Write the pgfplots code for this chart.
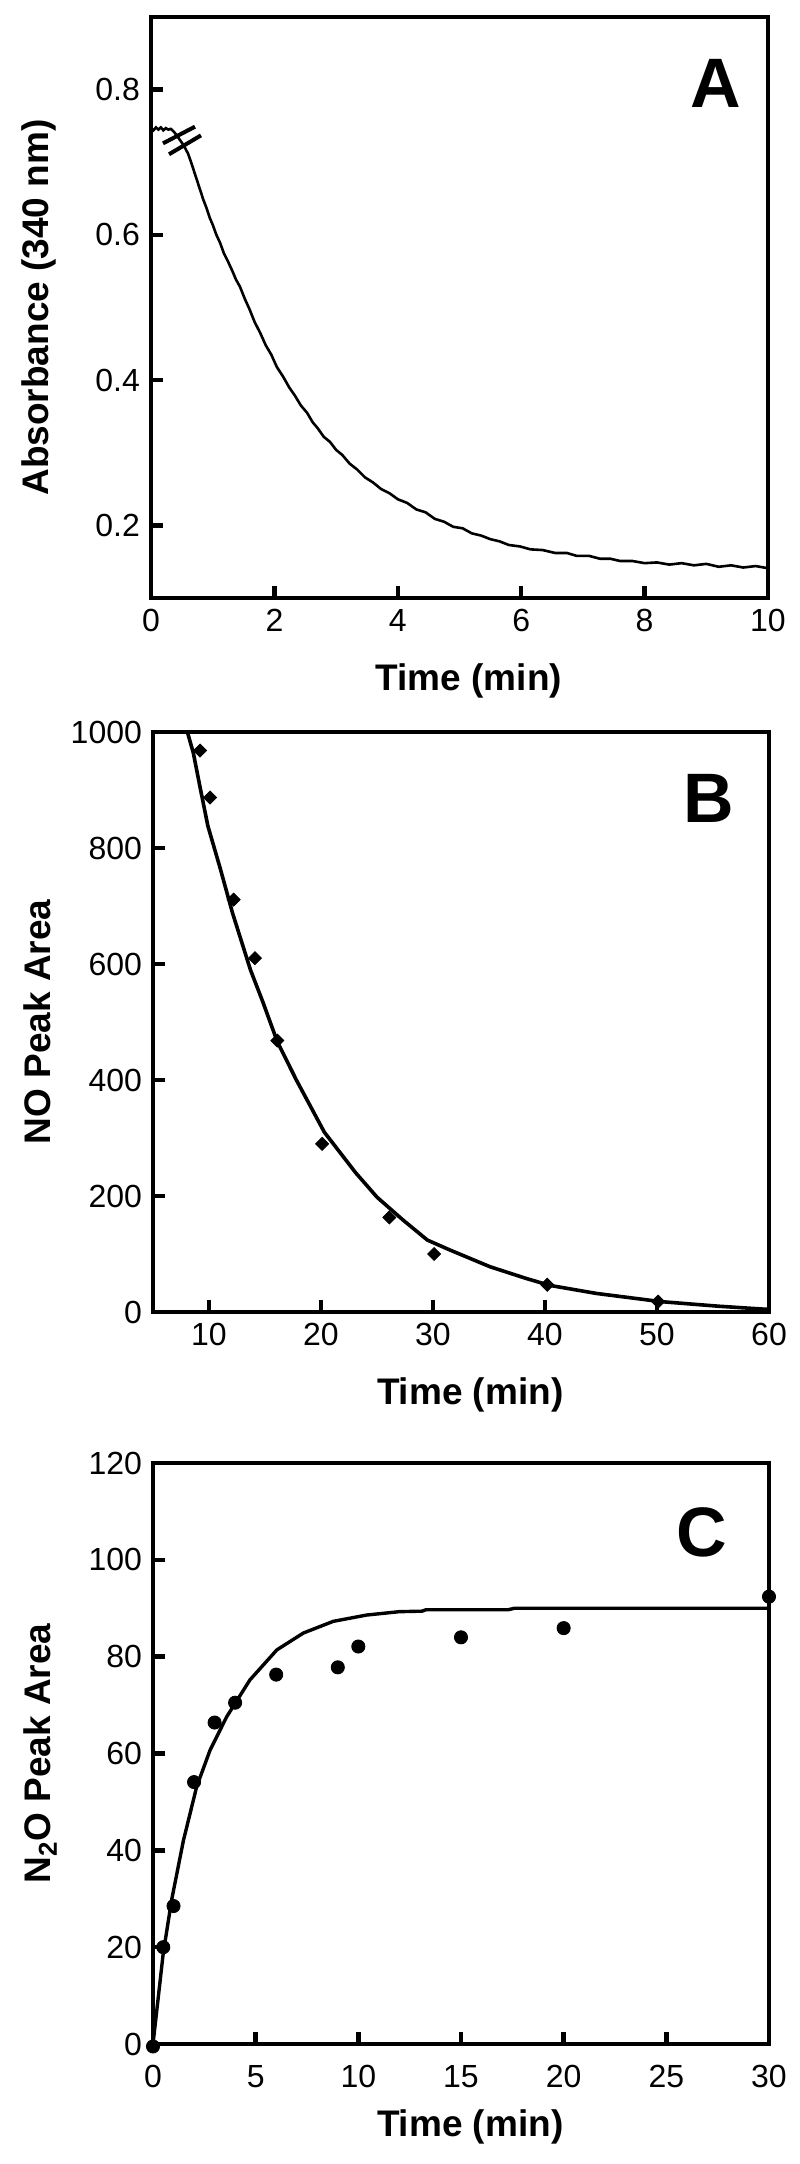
\documentclass[border=0pt]{standalone}
\usepackage{fontspec}
\setmainfont{Liberation Sans}
\usepackage{pgfplots}
\pgfplotsset{compat=1.18}
\pgfplotsset{
 panel/.style={
  scale only axis,
  axis line style={line width=2.4pt},
  every tick/.style={line width=2.2pt, black},
  major tick length=6pt,
  tick pos=left, tick align=inside,
  tick label style={font=\fontsize{16}{19}\selectfont},
  /pgf/number format/assume math mode=true,
  /pgf/number format/1000 sep={},
  every axis y label/.style={at={(rel axis cs:-0.166,0.5)}, rotate=90, anchor=base, font=\fontsize{18.5}{22}\selectfont\bfseries},
  every axis x label/.style={at={(rel axis cs:0.515,-0.159)}, anchor=base, font=\fontsize{18.5}{22}\selectfont\bfseries},
  yticklabel style={xshift=-2pt},
  xticklabel style={yshift=-2pt},
 },
}
\tikzset{letter/.style={font=\fontsize{35}{40}\selectfont\bfseries}}
\begin{document}
\begin{tikzpicture}
\useasboundingbox (0pt,0pt) rectangle (399.5pt,-1082pt);
% ---------------- Panel A ----------------
\begin{axis}[panel, at={(75.5pt,-299pt)}, anchor=south west,
  width=308.5pt, height=290.5pt,
  xmin=0, xmax=10, ymin=0.1, ymax=0.9,
  xtick={0,2,4,6,8,10}, ytick={0.2,0.4,0.6,0.8},
  yticklabel style={/pgf/number format/.cd, fixed, fixed zerofill, precision=1},
  xlabel={Time (min)}, ylabel={Absorbance (340 nm)}]
\addplot[black, line width=1.3pt] coordinates {
(0.00,0.747) (0.04,0.744) (0.08,0.748) (0.12,0.745) (0.16,0.748) (0.20,0.744)
(0.24,0.747) (0.28,0.745) (0.32,0.746) (0.36,0.743) (0.40,0.739) (0.45,0.733)
(0.50,0.727) (0.55,0.720) (0.60,0.712) (0.65,0.700) (0.70,0.687) (0.75,0.674)
(0.80,0.661) (0.85,0.648) (0.90,0.637) (0.95,0.624) (1.00,0.614) (1.06,0.600)
(1.12,0.589) (1.18,0.575) (1.25,0.563) (1.32,0.550) (1.38,0.538) (1.44,0.529)
(1.52,0.512) (1.60,0.497) (1.68,0.480) (1.77,0.465) (1.86,0.448) (1.95,0.435)
(2.04,0.418) (2.14,0.405) (2.24,0.390) (2.33,0.379) (2.43,0.365) (2.53,0.355)
(2.62,0.342) (2.70,0.334) (2.80,0.322) (2.90,0.315) (3.00,0.304) (3.10,0.297)
(3.22,0.285) (3.34,0.277) (3.47,0.266) (3.60,0.259) (3.73,0.250) (3.87,0.244)
(4.00,0.236) (4.15,0.231) (4.30,0.222) (4.45,0.218) (4.60,0.209) (4.75,0.205)
(4.90,0.198) (5.05,0.196) (5.20,0.189) (5.35,0.186) (5.50,0.181) (5.65,0.178)
(5.80,0.173) (5.98,0.171) (6.15,0.167) (6.35,0.166) (6.55,0.162) (6.74,0.162)
(6.90,0.158) (7.10,0.158) (7.28,0.154) (7.45,0.154) (7.60,0.151) (7.80,0.151)
(8.00,0.148) (8.20,0.149) (8.40,0.146) (8.60,0.148) (8.80,0.145) (9.00,0.147)
(9.20,0.143) (9.40,0.145) (9.60,0.142) (9.80,0.144) (10.00,0.141)};
\addplot[black, line width=2pt] coordinates {(0.194,0.726) (0.713,0.749)};
\addplot[black, line width=2pt] coordinates {(0.292,0.711) (0.810,0.737)};
\node[letter] at (rel axis cs:0.916,0.886) {A};
\end{axis}
% ---------------- Panel B ----------------
\begin{axis}[panel, at={(76.5pt,-656pt)}, anchor=south west,
  width=308pt, height=290pt,
  xmin=5, xmax=60, ymin=0, ymax=1000,
  xtick={10,20,30,40,50,60}, ytick={0,200,400,600,800,1000},
  xlabel={Time (min)}, ylabel={NO Peak Area}]
\addplot[black, line width=1.8pt] coordinates {
(8.1,998) (8.6,964) (9.2,905) (9.9,838) (11.0,765) (12.1,688) (13.7,590)
(14.8,535) (16.1,466) (17.8,400) (20.3,310) (23.1,240) (25.0,198) (27.3,159)
(29.5,124) (31.5,107) (35.1,78) (38.3,58) (40.4,46) (44.6,32) (50.3,18)
(55.5,10) (59.5,5) (60,5)};
\addplot[only marks, mark=square*, mark size=2.3pt, mark options={rotate=45, fill=black, draw=black}] coordinates {
(9.2,968) (10.1,887) (12.2,711) (14.1,610) (16.1,468) (20.1,290) (26.1,163)
(30.1,100) (40.2,47) (50.1,18)};
\node[letter] at (rel axis cs:0.903,0.885) {B};
\end{axis}
% ---------------- Panel C ----------------
\begin{axis}[panel, at={(76.5pt,-1022pt)}, anchor=south west,
  width=308pt, height=290.5pt, clip=false,
  xmin=0, xmax=30, ymin=0, ymax=120,
  xtick={0,5,10,15,20,25,30}, ytick={0,20,40,60,80,100,120},
  xticklabel style={yshift=-5pt},
  xlabel={Time (min)}, ylabel={N\textsubscript{2}O Peak Area}]
\addplot[black, line width=1.7pt] coordinates {
(0,0) (0.5,18.8) (0.91,29.8) (1.48,42) (2.13,53.2) (2.78,60.7) (3.59,67.6)
(4.72,75.2) (6.03,81.4) (7.33,84.9) (8.78,87.3) (10.4,88.6) (12.0,89.3)
(13.1,89.4) (13.3,89.7) (17.3,89.7) (17.6,90.0) (30,90.0)};
\addplot[only marks, mark=*, mark size=3.3pt, mark options={fill=black, draw=black}] coordinates {
(0,-0.5) (0.5,20) (1,28.5) (2,54.1) (3,66.4) (4,70.5) (6,76.3) (9,77.8)
(10,82.1) (15,84.0) (20,85.9) (30,92.4)};
\node[letter] at (rel axis cs:0.891,0.881) {C};
\end{axis}
\end{tikzpicture}
\end{document}
